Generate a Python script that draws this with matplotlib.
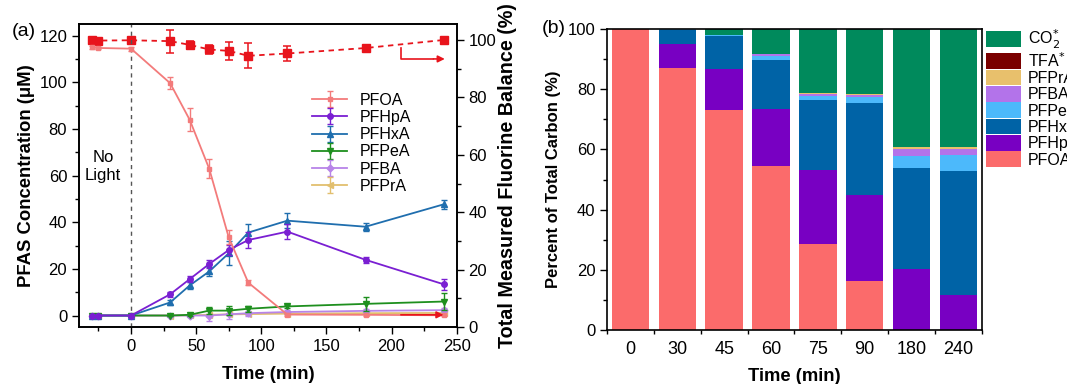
import matplotlib
matplotlib.use("Agg")
import matplotlib.pyplot as plt
from matplotlib.ticker import MultipleLocator, FixedLocator
import numpy as np

plt.rcParams['font.family'] = ['Liberation Sans', 'DejaVu Sans']

# ---------------- Panel (a) data ----------------
t_pfoa = [-30, -25, 0, 30, 45, 60, 75, 90, 120, 180, 240]
pfoa = [115, 114.8, 114.5, 99.7, 84, 63, 33.5, 14.1, 0.4, 0.3, 0.1]
pfoa_err = [0.5, 0.5, 0.8, 2.5, 5, 4, 3, 1, 0.5, 0.5, 0.3]

t_int = [-30, -25, 0, 30, 45, 60, 75, 90, 120, 180, 240]
pfhpa = [0, 0, 0, 9.1, 15.6, 22.1, 28.1, 32.4, 36.0, 23.9, 13.4]
pfhpa_err = [0, 0, 0, 1.0, 1.3, 1.7, 2.0, 3.5, 3.3, 1.3, 2.3]
pfhxa = [0, 0, 0, 5.6, 12.9, 18.9, 26.7, 35.6, 40.7, 38.1, 47.7]
pfhxa_err = [0, 0, 0, 1.0, 1.5, 1.8, 5.2, 3.5, 3.3, 1.7, 2.0]
pfpea = [0, 0, 0, 0, 0.3, 2.1, 2.1, 2.9, 3.9, 5.0, 6.0]
pfpea_err = [0, 0, 0, 0, 0.5, 1.5, 2.0, 1.2, 0.8, 3.0, 3.5]
pfba = [0, 0, 0, 0, 0, 0, 0.5, 1.0, 1.5, 2.0, 2.3]
pfba_err = [0, 0, 0, 0, 0.5, 2.3, 2.0, 1.0, 0.8, 1.0, 1.0]
pfpra = [0, 0, 0, 0, 0.1, 0.3, 0.5, 0.6, 0.8, 1.0, 1.1]
pfpra_err = [0, 0, 0, 0, 0.2, 0.3, 0.3, 0.3, 0.3, 0.4, 0.4]

t_fb = [-30, -25, 0, 30, 45, 60, 75, 90, 120, 180, 240]
fbal = [100, 99.8, 99.9, 99.6, 98.3, 96.7, 96.2, 94.5, 95.3, 97.2, 100]
fbal_err = [0.7, 0.4, 0.6, 4.0, 1.3, 1.5, 3.0, 4.3, 2.5, 0.5, 0.4]

# ---------------- Panel (b) data ----------------
times_b = ['0', '30', '45', '60', '75', '90', '180', '240']
b_pfoa  = [100, 87.2, 73.1, 54.6, 28.6, 16.4, 0, 0]
b_pfhpa = [0, 7.8, 13.6, 19.0, 24.6, 28.5, 20.4, 11.5]
b_pfhxa = [0, 4.6, 11.0, 16.3, 23.2, 30.6, 33.3, 41.4]
b_pfpea = [0, 0.3, 0.5, 1.1, 1.3, 2.0, 4.2, 5.2]
b_pfba  = [0, 0, 0, 0.6, 0.7, 0.7, 2.1, 2.1]
b_pfpra = [0, 0, 0, 0.2, 0.3, 0.3, 0.8, 0.7]
b_tfa   = [0, 0, 0, 0, 0, 0, 0, 0]
b_co2   = [0, 0.1, 1.8, 8.2, 21.3, 21.5, 39.2, 39.1]

fig = plt.figure(figsize=(10.67, 3.84), dpi=100)

# ================= Panel (a) =================
ax = fig.add_axes([0.074, 0.148, 0.354, 0.789])
axr = ax.twinx()

c_pfoa = '#f37b7b'
c_hp = '#7a1fd2'
c_hx = '#1f6eae'
c_pe = '#1e8f1e'
c_ba = '#b884e8'
c_pr = '#e2bf6e'
c_fb = '#e8141c'

ms = 4
kw = dict(lw=1.3, capsize=2.5, elinewidth=1.0, capthick=1.0)
ax.errorbar(t_int, pfpra, yerr=pfpra_err, color=c_pr, marker='<', ms=ms, label='PFPrA', zorder=2, **kw)
ax.errorbar(t_int, pfba, yerr=pfba_err, color=c_ba, marker='D', ms=3.5, label='PFBA', zorder=3, **kw)
ax.errorbar(t_int, pfpea, yerr=pfpea_err, color=c_pe, marker='v', ms=ms, label='PFPeA', zorder=4, **kw)
ax.errorbar(t_int, pfhxa, yerr=pfhxa_err, color=c_hx, marker='^', ms=ms, label='PFHxA', zorder=5, **kw)
ax.errorbar(t_int, pfhpa, yerr=pfhpa_err, color=c_hp, marker='o', ms=ms, label='PFHpA', zorder=6, **kw)
ax.errorbar(t_pfoa, pfoa, yerr=pfoa_err, color=c_pfoa, marker='s', ms=3.5, label='PFOA', zorder=7, **kw)

ax.axvline(0, color='#555555', ls=(0, (3, 3)), lw=1.0, zorder=1)

ax.set_xlim(-40, 250)
ax.set_ylim(-5, 125)
ax.xaxis.set_major_locator(MultipleLocator(50))
ax.xaxis.set_minor_locator(MultipleLocator(25))
ax.yaxis.set_major_locator(MultipleLocator(20))
ax.yaxis.set_minor_locator(MultipleLocator(10))
ax.tick_params(which='both', direction='out', labelsize=12, width=1.0)
ax.tick_params(which='major', length=5)
ax.tick_params(which='minor', length=3)
ax.set_xlabel('Time (min)', fontsize=13.3, fontweight='bold', labelpad=9)
ax.set_ylabel('PFAS Concentration (μM)', fontsize=13.3, fontweight='bold', labelpad=3)
ax.text(-21.5, 64, 'No\nLight', ha='center', va='center', fontsize=12, linespacing=1.3)

handles, labels = ax.get_legend_handles_labels()
order = ['PFOA', 'PFHpA', 'PFHxA', 'PFPeA', 'PFBA', 'PFPrA']
hmap = dict(zip(labels, handles))
leg = ax.legend([hmap[o] for o in order], order, loc='upper left',
                bbox_to_anchor=(0.60, 0.795), frameon=False, fontsize=11.5,
                handlelength=2.2, labelspacing=0.14, handletextpad=0.8, borderaxespad=0)

axr.errorbar(t_fb, fbal, yerr=fbal_err, color=c_fb, marker='s', ms=5.5, ls=(0, (3, 2.5)),
             lw=1.3, capsize=3, elinewidth=1.1, capthick=1.1, zorder=8)
axr.set_ylim(0, 105.5)
axr.yaxis.set_major_locator(MultipleLocator(20))
axr.yaxis.set_minor_locator(MultipleLocator(10))
axr.tick_params(which='both', direction='out', labelsize=12, width=1.0)
axr.tick_params(which='major', length=5)
axr.tick_params(which='minor', length=3)
axr.set_ylabel('Total Measured Fluorine Balance (%)', fontsize=14.2, fontweight='bold', labelpad=1)

# arrows
axr.plot([207, 207, 232], [97.2, 93.4, 93.4], color=c_fb, lw=1.2, zorder=9)
axr.annotate('', xy=(243, 93.4), xytext=(230, 93.4),
             arrowprops=dict(arrowstyle='-|>', color=c_fb, lw=1.2, mutation_scale=10))
ax.annotate('', xy=(242, 0.3), xytext=(205, 0.3),
            arrowprops=dict(arrowstyle='-|>', color=c_fb, lw=1.2, mutation_scale=10), zorder=9)

for a in (ax, axr):
    for s in a.spines.values():
        s.set_linewidth(1.2)
ax.set_zorder(axr.get_zorder() + 1)
ax.patch.set_visible(False)

fig.text(0.011, 0.917, '(a)', fontsize=14, va='center')

# ================= Panel (b) =================
bx = fig.add_axes([0.569, 0.141, 0.351, 0.783])
x = np.arange(len(times_b))
stack = [
    ('PFOA', b_pfoa, '#fb6b6b'),
    ('PFHpA', b_pfhpa, '#7800c2'),
    ('PFHxA', b_pfhxa, '#0063a6'),
    ('PFPeA', b_pfpea, '#4cb9fb'),
    ('PFBA', b_pfba, '#b373ea'),
    ('PFPrA', b_pfpra, '#e8c06c'),
    ('TFA$^{*}$', b_tfa, '#7a0000'),
    ('CO$_2^{*}$', b_co2, '#008a5c'),
]
bottom = np.zeros(len(times_b))
bars = []
for name, vals, col in stack:
    v = np.array(vals, dtype=float)
    b = bx.bar(x, v, bottom=bottom, width=0.8, color=col, label=name, linewidth=0)
    bars.append(b)
    bottom += v

bx.set_xlim(-0.5, len(times_b) - 0.5)
bx.set_ylim(0, 100)
bx.set_xticks(x)
bx.set_xticklabels(times_b)
bx.xaxis.set_minor_locator(FixedLocator(np.arange(-0.5, len(times_b), 1.0)))
bx.yaxis.set_major_locator(MultipleLocator(20))
bx.yaxis.set_minor_locator(MultipleLocator(10))
bx.tick_params(which='both', direction='out', width=1.0)
bx.tick_params(axis='x', which='major', length=0, pad=8, labelsize=13)
bx.tick_params(axis='x', which='minor', length=3)
bx.tick_params(axis='y', which='major', length=5, labelsize=12)
bx.tick_params(axis='y', which='minor', length=3)
bx.set_xlabel('Time (min)', fontsize=13.3, fontweight='bold', labelpad=7)
bx.set_ylabel('Percent of Total Carbon (%)', fontsize=12, fontweight='bold', labelpad=5)
for s in bx.spines.values():
    s.set_linewidth(1.2)

bx.legend(bars[::-1], [s[0] for s in stack][::-1], loc='upper left',
          bbox_to_anchor=(1.012, 1.005), frameon=False, fontsize=11.5,
          handlelength=2.2, handleheight=1.15, labelspacing=0.0,
          handletextpad=0.4, borderaxespad=0, borderpad=0)

fig.text(0.508, 0.927, '(b)', fontsize=14, va='center')

fig.savefig('out.png', dpi=100)
